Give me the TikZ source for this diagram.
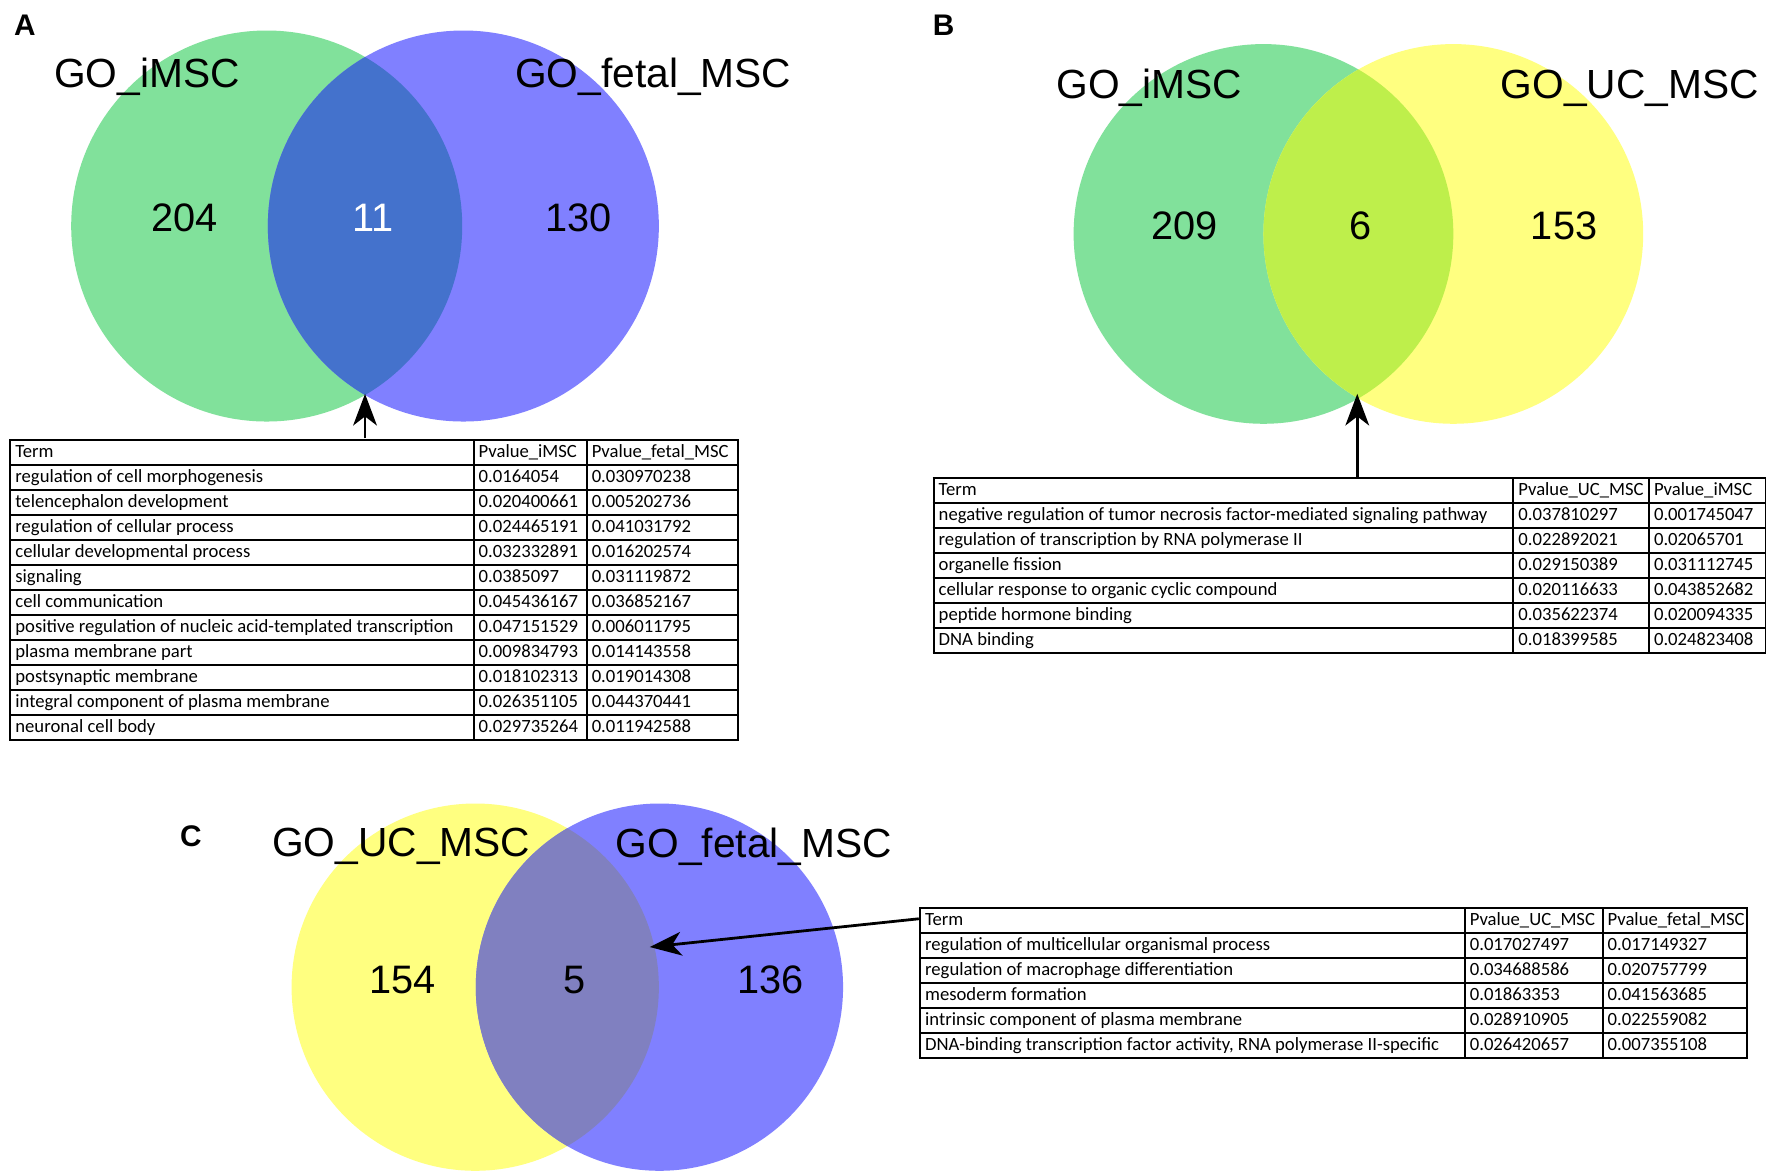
\documentclass[tikz,border=0pt]{standalone}
\usepackage{fontspec, array, tkz-euclide}
\usetikzlibrary{arrows.meta}
\setmainfont{Liberation Sans}
\newfontfamily\tabfont{Carlito}
\tikzset{>={Stealth[length=5.6mm, width=4.2mm, inset=1.6mm]}}

\definecolor{vgreen}{RGB}{129,225,155}
\definecolor{vblue}{RGB}{128,128,255}
\definecolor{vyellow}{RGB}{255,255,128}
\definecolor{gbmix}{RGB}{68,114,204}
\definecolor{gymix}{RGB}{190,239,75}
\definecolor{ybmix}{RGB}{128,128,192}

\setlength{\tabcolsep}{2pt}
\setlength{\arrayrulewidth}{1pt}
\newcommand{\rowstrut}{\rule[-3.4pt]{0pt}{11.6pt}}
\newcolumntype{G}[1]{>{\rowstrut}w{l}{\dimexpr#1-2\tabcolsep-\arrayrulewidth\relax}}

\tikzset{
  setlabel/.style={inner sep=0pt, font=\fontsize{20.5}{24}\selectfont},
  setcount/.style={inner sep=0pt, font=\fontsize{20}{24}\selectfont},
  panel/.style={inner sep=0pt, font=\fontsize{15}{18}\selectfont\bfseries},
  gotable/.style={inner sep=0pt, anchor=north west, font=\tabfont\fontsize{9.4}{11}\selectfont},
  pointer/.style={->, line width=1.4pt}
}

\begin{document}
\begin{tikzpicture}
    \useasboundingbox[fill=white] (0,0) rectangle (31.36,-20.76);

    % A
    \tkzDefPoints{4.72/-4/GA, 1.26/-4/ga, 8.2/-4/BA, 11.66/-4/ba, 6.46/-6.97/xA}
    \tkzFillCircle[color=vgreen](GA,ga)
    \tkzFillCircle[color=vblue](BA,ba)
    \begin{scope}
    \tkzClipCircle(GA,ga)
    \tkzFillCircle[color=gbmix](BA,ba)
    \end{scope}
    \node[panel] (pA) at (0.44,-0.44) {A};
    \node[setlabel] (lA1) at (2.6,-1.36) {GO\_iMSC};
    \node[setlabel] (lA2) at (11.56,-1.36) {GO\_fetal\_MSC};
    \node[setcount] (nA1) at (3.26,-3.86) {204};
    \node[setcount, white] (nA2) at (6.6,-3.86) {11};
    \node[setcount] (nA3) at (10.24,-3.86) {130};
    \node[gotable] (tabA) at (0.16,-7.76) {\begin{tabular}{|G{8.2cm}|G{2cm}|G{2.68cm}|}\hline
    Term & Pvalue\_iMSC & Pvalue\_fetal\_MSC\\\hline
    regulation of cell morphogenesis & 0.0164054 & 0.030970238\\\hline
    telencephalon development & 0.020400661 & 0.005202736\\\hline
    regulation of cellular process & 0.024465191 & 0.041031792\\\hline
    cellular developmental process & 0.032332891 & 0.016202574\\\hline
    signaling & 0.0385097 & 0.031119872\\\hline
    cell communication & 0.045436167 & 0.036852167\\\hline
    positive regulation of nucleic acid-templated transcription & 0.047151529 & 0.006011795\\\hline
    plasma membrane part & 0.009834793 & 0.014143558\\\hline
    postsynaptic membrane & 0.018102313 & 0.019014308\\\hline
    integral component of plasma membrane & 0.026351105 & 0.044370441\\\hline
    neuronal cell body & 0.029735264 & 0.011942588\\\hline
    \end{tabular}};
    \draw[pointer] (tabA.north -| xA) -- (xA);

    % B
    \tkzDefPoints{22.36/-4.14/GB, 19/-4.14/gb, 25.72/-4.14/YB, 29.08/-4.14/yb, 24.02/-6.97/xB}
    \tkzFillCircle[color=vgreen](GB,gb)
    \tkzFillCircle[color=vyellow](YB,yb)
    \begin{scope}
    \tkzClipCircle(GB,gb)
    \tkzFillCircle[color=gymix](YB,yb)
    \end{scope}
    \node[panel] (pB) at (16.7,-0.44) {B};
    \node[setlabel] (lB1) at (20.34,-1.56) {GO\_iMSC};
    \node[setlabel] (lB2) at (28.84,-1.56) {GO\_UC\_MSC};
    \node[setcount] (nB1) at (20.96,-4) {209};
    \node[setcount] (nB2) at (24.08,-4) {6};
    \node[setcount] (nB3) at (27.68,-4) {153};
    \node[gotable] (tabB) at (16.5,-8.44) {\begin{tabular}{|G{10.26cm}|G{2.4cm}|G{2.06cm}|}\hline
    Term & Pvalue\_UC\_MSC & Pvalue\_iMSC\\\hline
    negative regulation of tumor necrosis factor-mediated signaling pathway & 0.037810297 & 0.001745047\\\hline
    regulation of transcription by RNA polymerase II & 0.022892021 & 0.02065701\\\hline
    organelle fission & 0.029150389 & 0.031112745\\\hline
    cellular response to organic cyclic compound & 0.020116633 & 0.043852682\\\hline
    peptide hormone binding & 0.035622374 & 0.020094335\\\hline
    DNA binding & 0.018399585 & 0.024823408\\\hline
    \end{tabular}};
    \draw[pointer] (tabB.north -| xB) -- (xB);

    % C
    \tkzDefPoints{8.41/-17.47/YC, 5.16/-17.47/yc, 11.67/-17.47/BC, 14.92/-17.47/bc, 11.5/-16.76/xC}
    \tkzFillCircle[color=vyellow](YC,yc)
    \tkzFillCircle[color=vblue](BC,bc)
    \begin{scope}
    \tkzClipCircle(YC,yc)
    \tkzFillCircle[color=ybmix](BC,bc)
    \end{scope}
    \node[panel] (pC) at (3.38,-14.8) {C};
    \node[setlabel] (lC1) at (7.1,-14.98) {GO\_UC\_MSC};
    \node[setlabel] (lC2) at (13.34,-14.98) {GO\_fetal\_MSC};
    \node[setcount] (nC1) at (7.12,-17.34) {154};
    \node[setcount] (nC2) at (10.16,-17.34) {5};
    \node[setcount] (nC3) at (13.64,-17.34) {136};
    \node[gotable] (tabC) at (16.26,-16.04) {\begin{tabular}{|G{9.64cm}|G{2.44cm}|G{2.56cm}|}\hline
    Term & Pvalue\_UC\_MSC & Pvalue\_fetal\_MSC\\\hline
    regulation of multicellular organismal process & 0.017027497 & 0.017149327\\\hline
    regulation of macrophage differentiation & 0.034688586 & 0.020757799\\\hline
    mesoderm formation & 0.01863353 & 0.041563685\\\hline
    intrinsic component of plasma membrane & 0.028910905 & 0.022559082\\\hline
    DNA-binding transcription factor activity, RNA polymerase II-specific & 0.026420657 & 0.007355108\\\hline
    \end{tabular}};
    \draw[pointer] ([yshift=-0.22cm]tabC.north west) -- (xC);
\end{tikzpicture}
\end{document}
